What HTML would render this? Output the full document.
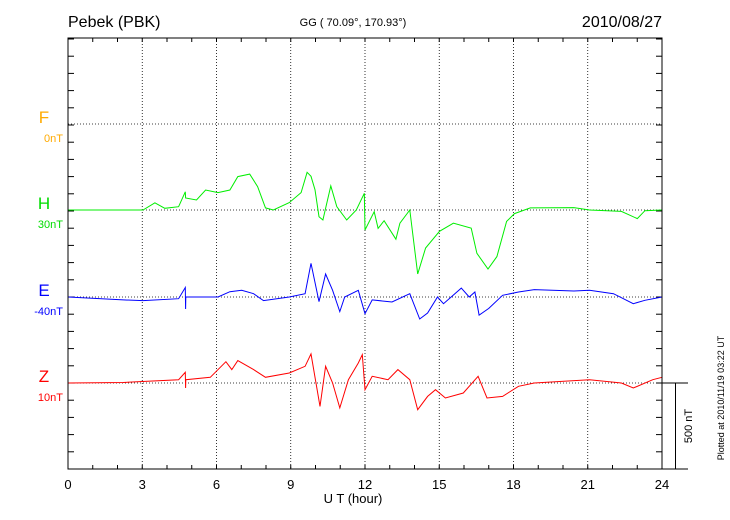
<!DOCTYPE html>
<html><head><meta charset="utf-8">
<style>
body{margin:0;background:#fff;}
svg{display:block;font-family:"Liberation Sans",sans-serif;}
</style></head>
<body>
<svg id="chart" width="730" height="520" viewBox="0 0 730 520">
<text x="68" y="27" font-size="16">Pebek (PBK)</text>
<text x="353" y="26" font-size="11" text-anchor="middle">GG ( 70.09°, 170.93°)</text>
<text x="662" y="27" font-size="16" text-anchor="end">2010/08/27</text>
<g id="grid"></g>
<g id="series"></g>
<rect x="68" y="38" width="594" height="431" fill="none" stroke="#000" stroke-width="1"/>
<g id="labels"></g>
<text x="353" y="503" font-size="13" text-anchor="middle">U T (hour)</text>
<g stroke="#000" stroke-width="1">
<line x1="662" y1="383" x2="688" y2="383"/>
<line x1="675.5" y1="383" x2="675.5" y2="469"/>
<line x1="662" y1="469" x2="688" y2="469"/>
</g>
<text transform="translate(692,426) rotate(-90)" font-size="11" text-anchor="middle">500 nT</text>
<text transform="translate(724,398) rotate(-90)" font-size="9" text-anchor="middle">Plotted at 2010/11/19 03:22 UT</text>
</svg>
<script>
const xTicks=[0,3,6,9,12,15,18,21,24];
const baselines=[124,210,297,383];
const hHours=[0,3.03,3.51,3.91,4.47,4.74,4.75,5.19,5.56,6.06,6.54,6.86,7.34,7.66,7.98,8.30,8.94,9.42,9.66,9.82,9.98,10.14,10.30,10.62,10.86,11.26,11.65,11.97,12.00,12.37,12.53,12.77,13.25,13.41,13.81,14.13,14.45,15.01,15.57,16.29,16.52,16.97,17.33,17.72,18.04,18.68,20.44,21.07,22.36,23.00,23.31,24];
const hValues=[0,0,42,10,19,106,70,58,116,101,116,194,209,136,12,0,43,101,219,196,118,-39,-58,140,19,-58,0,97,-116,-10,-107,-62,-170,-77,0,-372,-221,-124,-77,-105,-252,-343,-271,-66,-21,12,14,0,-8,-50,-4,0];
const eHours=[0,2.23,3.03,4.47,4.74,4.75,4.76,5.19,6.06,6.54,7.02,7.50,7.90,8.94,9.58,9.82,10.14,10.41,10.69,10.98,11.18,11.73,12.00,12.29,13.09,13.81,14.21,14.53,14.93,15.17,15.89,16.21,16.44,16.61,17.00,17.56,18.20,18.84,20.44,21.07,22.04,22.84,23.31,24];
const eValues=[0,-17,-21,-10,55,-70,0,0,0,31,39,19,-21,0,19,196,-27,134,39,-85,0,39,-97,-17,-29,19,-128,-93,0,-39,52,0,29,-105,-66,10,29,43,35,39,19,-39,-19,0];
const zHours=[0,2.23,4.47,4.74,4.75,4.76,5.75,6.38,6.62,6.86,7.50,7.98,8.94,9.58,9.82,10.18,10.41,10.69,10.98,11.33,11.73,11.89,12.00,12.29,12.93,13.33,13.81,14.13,14.53,14.85,15.25,15.97,16.57,16.93,17.56,18.20,18.84,21.07,22.36,22.84,23.63,24];
const zValues=[0,3,19,62,-29,19,33,124,78,130,78,33,58,97,169,-136,97,0,-145,19,116,165,-39,39,19,78,19,-155,-78,-39,-87,-58,39,-87,-78,-19,0,19,0,-29,19,33];

const NS='http://www.w3.org/2000/svg';
const X0=68,X1=662,Y0=38,Y1=469;
function xScale(h){return X0+(h/24)*(X1-X0);}
const pxPerNT=86/500;
function yScale(base,v){return base-v*pxPerNT;}
function mk(tag,attrs,parent){const e=document.createElementNS(NS,tag);for(const k in attrs)e.setAttribute(k,attrs[k]);parent.appendChild(e);return e;}

const grid=document.getElementById('grid');
xTicks.forEach((t,i)=>{
  if(i>0&&i<xTicks.length-1){
    const l=mk('line',{x1:xScale(t),x2:xScale(t),y1:Y0,y2:Y1,stroke:'#000','stroke-width':0.8,'stroke-dasharray':'1,2'},grid);
    
    
  }
  const tx=mk('text',{x:xScale(t),y:489,'font-size':13,'text-anchor':'middle'},grid);
  tx.textContent=t;
  
  
});
baselines.forEach(b=>{
  const l=mk('line',{x1:X0,x2:X1,y1:b,y2:b,stroke:'#000','stroke-width':0.8,'stroke-dasharray':'1,2'},grid);
  
  
});
// y minor ticks every 100 nT
for(let y=Y0+17.2*0+ (383-Y0)%17.2; y<Y1; y+=17.2){
  mk('line',{x1:X0,x2:X0+6,y1:y,y2:y,stroke:'#000'},grid);
  mk('line',{x1:X1-6,x2:X1,y1:y,y2:y,stroke:'#000'},grid);
}
for(let i=0;i<=24;i++){
  mk('line',{x1:xScale(i),x2:xScale(i),y1:Y1,y2:Y1-4,stroke:'#000'},grid);
  mk('line',{x1:xScale(i),x2:xScale(i),y1:Y0,y2:Y0+4,stroke:'#000'},grid);
}

const ser=document.getElementById('series');
function draw(hours,vals,base,color,name){
  const pts=hours.map((h,i)=>xScale(h).toFixed(1)+','+yScale(base,vals[i]).toFixed(1)).join(' ');
  const p=mk('polyline',{points:pts,fill:'none',stroke:color,'stroke-width':1},ser);
  
  
}
draw(hHours,hValues,210,'#00ee00','h-component-line');
draw(eHours,eValues,297,'#0000ff','e-component-line');
draw(zHours,zValues,383,'#ff0000','z-component-line');

const lab=document.getElementById('labels');
const compNames=['F','H','E','Z'];
const compOffsets=['0nT','30nT','-40nT','10nT'];
const compColors=['#ffaa00','#00dd00','#0000ff','#ff0000'];
compNames.forEach((n,i)=>{
  const t=mk('text',{x:44,y:baselines[i]-1,'font-size':17,'text-anchor':'middle',fill:compColors[i]},lab);
  t.textContent=n;
  
  
  const o=mk('text',{x:63,y:baselines[i]+18,'font-size':11,'text-anchor':'end',fill:compColors[i]},lab);
  o.textContent=compOffsets[i];
  
  
});
</script>
</body></html>
